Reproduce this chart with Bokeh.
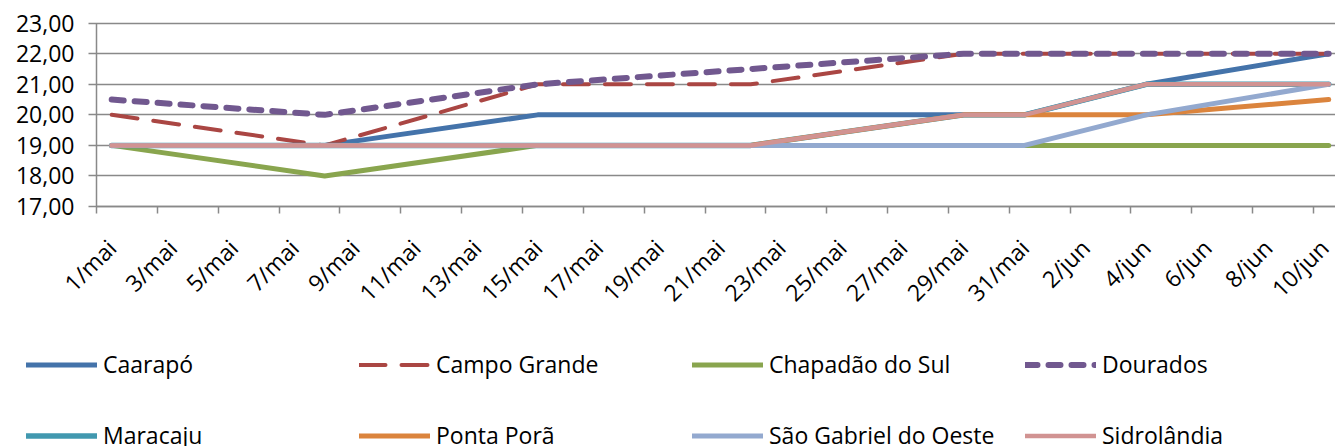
import math
from bokeh.plotting import figure
from bokeh.models import Range1d, FixedTicker, Legend, LegendItem
from bokeh.embed import file_html
from bokeh.resources import INLINE

# ---------------- data ----------------
dates = ["1/mai", "8/mai", "15/mai", "22/mai", "29/mai", "31/mai", "4/jun", "10/jun"]

caarapo = [19, 19, 20, 20, 20, 20, 21, 22]
campo_grande = [20, 19, 21, 21, 22, 22, 22, 22]
chapadao_do_sul = [19, 18, 19, 19, 19, 19, 19, 19]
dourados = [20.5, 20, 21, 21.5, 22, 22, 22, 22]
maracaju = [19, 19, 19, 19, 20, 20, 21, 21]
ponta_pora = [19, 19, 19, 19, 20, 20, 20, 20.5]
sao_gabriel = [19, 19, 19, 19, 19, 19, 20, 21]
sidrolandia = [19, 19, 19, 19, 20, 20, 21, 21]

x_tick_labels = ["1/mai", "3/mai", "5/mai", "7/mai", "9/mai", "11/mai", "13/mai",
                 "15/mai", "17/mai", "19/mai", "21/mai", "23/mai", "25/mai",
                 "27/mai", "29/mai", "31/mai", "2/jun", "4/jun", "6/jun",
                 "8/jun", "10/jun"]
y_ticks = [17, 18, 19, 20, 21, 22, 23]
y_tick_labels = ["17,00", "18,00", "19,00", "20,00", "21,00", "22,00", "23,00"]

# ---------------- helpers ----------------
month_offset = {"mai": 0, "jun": 31}


def day_index(s):
    d, m = s.split("/")
    return int(d) - 1 + month_offset[m]


xs = [day_index(d) + 0.5 for d in dates]  # points sit in the middle of their day
major_pos = [day_index(s) + 0.5 for s in x_tick_labels]
minor_pos = [day_index(s) for s in x_tick_labels]

FONT = "Open Sans"
GRID = "#898989"

W, H = 1335, 446
PX_DAY = 30.425          # horizontal scale (px per day)
PX_UNIT = 30.55          # vertical scale (px per degree)
X0_PX, Y17_PX = 96, 206  # where day 0 / value 17 sit on the page

x_start = -X0_PX / PX_DAY
x_end = (W - X0_PX) / PX_DAY
y_start = min(y_ticks) - (H - Y17_PX) / PX_UNIT
y_end = min(y_ticks) + Y17_PX / PX_UNIT

p = figure(width=W, height=H,
           x_range=Range1d(x_start, x_end), y_range=Range1d(y_start, y_end),
           output_backend="svg", toolbar_location=None,
           min_border_left=0, min_border_right=0,
           min_border_top=0, min_border_bottom=0)
p.outline_line_color = None
p.background_fill_color = "white"
p.border_fill_color = "white"
p.grid.visible = False

# y axis (drawn at day 0, its inward ticks form the horizontal grid, under the lines)
p.yaxis.level = "underlay"
p.yaxis.fixed_location = 0
p.yaxis.bounds = (min(y_ticks), max(y_ticks))
p.yaxis.ticker = FixedTicker(ticks=y_ticks)
p.yaxis.major_label_overrides = {t: l for t, l in zip(y_ticks, y_tick_labels)}
p.yaxis.axis_line_color = GRID
p.yaxis.axis_line_width = 1.5
p.yaxis.major_tick_line_color = GRID
p.yaxis.major_tick_line_width = 1.5
p.yaxis.major_tick_in = W - X0_PX
p.yaxis.major_tick_out = 8
p.yaxis.minor_tick_line_color = None
p.yaxis.major_label_text_font = FONT
p.yaxis.major_label_text_font_size = "23px"
p.yaxis.major_label_text_color = "black"
p.yaxis.major_label_standoff = 14

# x axis (drawn at value 17)
p.xaxis.level = "underlay"
p.xaxis.fixed_location = min(y_ticks)
p.xaxis.bounds = (0, x_end)
p.xaxis.ticker = FixedTicker(ticks=major_pos, minor_ticks=minor_pos)
p.xaxis.major_label_overrides = {t: l for t, l in zip(major_pos, x_tick_labels)}
p.xaxis.axis_line_color = GRID
p.xaxis.axis_line_width = 1.5
p.xaxis.major_tick_line_color = None
p.xaxis.major_tick_in = 0
p.xaxis.major_tick_out = 0
p.xaxis.minor_tick_line_color = GRID
p.xaxis.minor_tick_line_width = 1.5
p.xaxis.minor_tick_in = 0
p.xaxis.minor_tick_out = 7
p.xaxis.major_label_orientation = math.pi / 4
p.xaxis.major_label_text_font = FONT
p.xaxis.major_label_text_font_size = "23px"
p.xaxis.major_label_text_color = "black"
p.xaxis.major_label_standoff = 30

series = [
    ("Caarapó", caarapo, "#4473AA", 5, None),
    ("Campo Grande", campo_grande, "#AA4643", 4, "26 16"),
    ("Chapadão do Sul", chapadao_do_sul, "#89A54E", 5, None),
    ("Dourados", dourados, "#71588F", 6, "12 11"),
    ("Maracaju", maracaju, "#4198AF", 5.5, None),
    ("Ponta Porã", ponta_pora, "#DB843D", 5, None),
    ("São Gabriel do Oeste", sao_gabriel, "#93A9CF", 5, None),
    ("Sidrolândia", sidrolandia, "#D19392", 4.5, None),
]

items = []
for name, ys, color, w, dash in series:
    kw = dict(line_color=color, line_width=w, line_cap="round", line_join="round")
    if dash:
        kw["line_dash"] = dash
    r = p.line(xs, ys, **kw)
    items.append(LegendItem(label=name, renderers=[r]))

legend = Legend(items=items, location=(26, -24.5), orientation="horizontal",
                ncols=4, glyph_width=71, glyph_height=71, label_height=71,
                label_width=256, label_standoff=6, spacing=0, padding=0,
                margin=0, border_line_color=None, background_fill_alpha=0,
                label_text_font=FONT, label_text_font_size="23px",
                label_text_color="black")
p.add_layout(legend, "center")

open("out.html", "w").write(file_html(p, INLINE))
